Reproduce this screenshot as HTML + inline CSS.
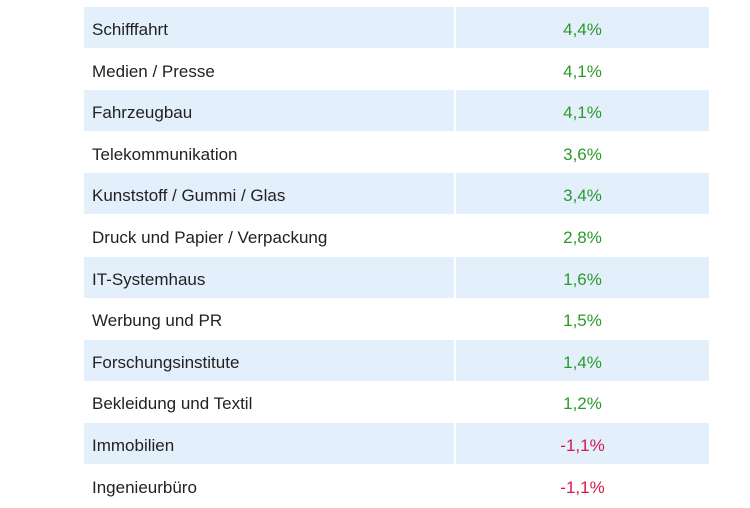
<!DOCTYPE html>
<html><head><meta charset="utf-8"><style>
body{margin:0;width:750px;height:500px;background:#fff;overflow:hidden;font-family:"Liberation Sans",sans-serif;}
.r{position:absolute;left:84px;width:625px;height:41.6px;}
.b .c1,.b .c2{background:#e3effb;}
.c1,.c2{position:absolute;top:0;height:41px;line-height:41px;font-size:17px;padding-top:2px;box-sizing:border-box;}
.c1{left:0;width:370px;padding-left:8px;color:#222;}
.c2{left:372px;width:253px;text-align:center;color:#2a9a2c;}
.n .c2{color:#d21a4c;}
</style></head><body>
<div class="r b" style="top:7px"><div class="c1">Schifffahrt</div><div class="c2">4,4%</div></div>
<div class="r" style="top:48.6px"><div class="c1">Medien / Presse</div><div class="c2">4,1%</div></div>
<div class="r b" style="top:90.2px"><div class="c1">Fahrzeugbau</div><div class="c2">4,1%</div></div>
<div class="r" style="top:131.8px"><div class="c1">Telekommunikation</div><div class="c2">3,6%</div></div>
<div class="r b" style="top:173.4px"><div class="c1">Kunststoff / Gummi / Glas</div><div class="c2">3,4%</div></div>
<div class="r" style="top:215px"><div class="c1">Druck und Papier / Verpackung</div><div class="c2">2,8%</div></div>
<div class="r b" style="top:256.6px"><div class="c1">IT-Systemhaus</div><div class="c2">1,6%</div></div>
<div class="r" style="top:298.2px"><div class="c1">Werbung und PR</div><div class="c2">1,5%</div></div>
<div class="r b" style="top:339.8px"><div class="c1">Forschungsinstitute</div><div class="c2">1,4%</div></div>
<div class="r" style="top:381.4px"><div class="c1">Bekleidung und Textil</div><div class="c2">1,2%</div></div>
<div class="r b n" style="top:423px"><div class="c1">Immobilien</div><div class="c2">-1,1%</div></div>
<div class="r n" style="top:464.6px"><div class="c1">Ingenieurbüro</div><div class="c2">-1,1%</div></div>
</body></html>
